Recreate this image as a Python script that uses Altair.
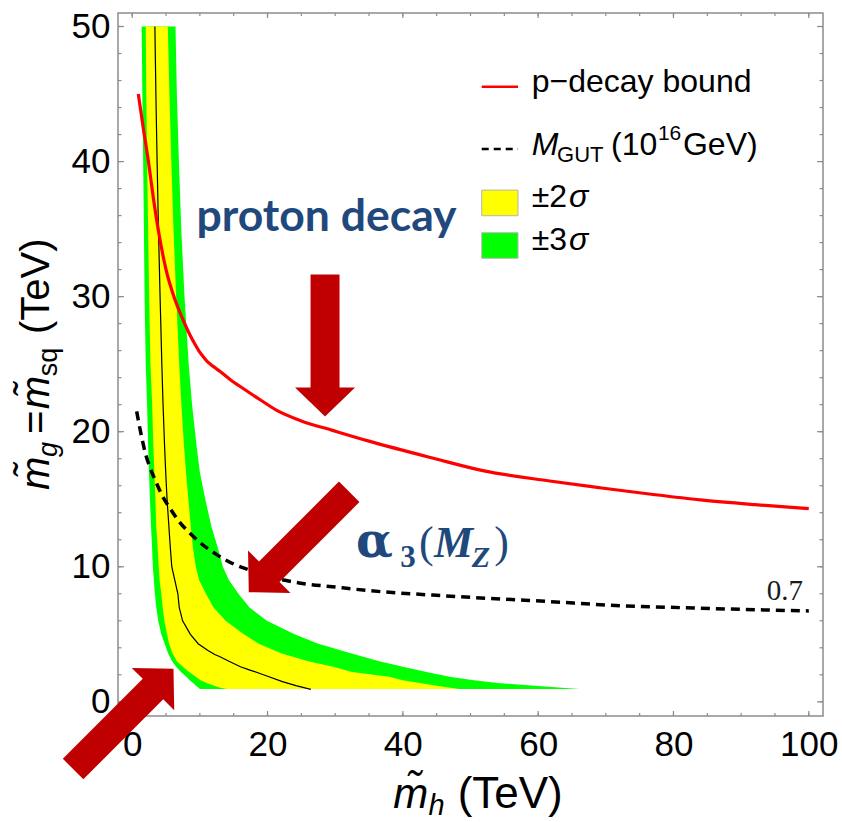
import altair as alt
import pandas as pd

# ---------------- values ----------------
# p-decay bound (red, solid)
pdecay_x = [0.9, 1.6, 2.4, 3.1, 3.9, 5.0, 6.3, 7.5, 8.6, 9.3, 9.9, 10.5, 11.0, 11.6, 12.2, 13.0, 14.5,
            16.4, 18.8, 21.3, 25.0, 29.6, 35.0, 44.4, 52.0, 61.7, 69.1, 77.0, 84.0, 92.0, 100.0]
pdecay_y = [45.0, 42.6, 40.0, 37.4, 34.8, 32.0, 29.8, 28.3, 27.1, 26.45, 25.95, 25.55, 25.25, 24.98,
            24.75, 24.45, 23.85, 23.2, 22.4, 21.6, 20.8, 20.1, 19.3, 18.05, 17.1, 16.35, 15.85, 15.35,
            14.95, 14.6, 14.3]

# M_GUT = 10^16 GeV contour (black, dashed)
mgut_x = [0.66, 1.4, 2.0, 2.6, 3.5, 4.5, 5.5, 7.0, 8.5, 10.0, 12.5, 15.0, 17.3, 20.0, 24.7, 30.0,
          34.6, 44.4, 55.0, 61.7, 70.0, 84.0, 100.0]
mgut_y = [21.5, 19.6, 18.3, 17.4, 16.3, 15.2, 14.4, 13.3, 12.5, 11.8, 10.9, 10.2, 9.76, 9.3, 8.8, 8.5,
          8.25, 7.9, 7.6, 7.42, 7.17, 6.93, 6.73]

# alpha_3(M_Z) bands, one row per level of the vertical axis
band_y = [0.95, 1.05, 1.2, 1.4, 1.6, 1.85, 2.2, 2.6, 3.0, 3.6, 4.3, 5, 6, 7, 8, 9, 10, 11.5, 13, 15,
          17, 19, 22, 25, 30, 35, 40, 45, 50]
green_left = [10.0, 9.8, 9.4, 9.0, 8.5, 8.0, 7.2, 6.5, 5.9, 5.3, 4.8, 4.3, 3.85, 3.55, 3.35, 3.2, 3.05,
              2.93, 2.78, 2.62, 2.48, 2.35, 2.2, 2.0, 1.83, 1.73, 1.62, 1.5, 1.4]
yellow_left = [14.0, 13.0, 12.0, 11.0, 10.1, 9.4, 8.4, 7.5, 6.6, 5.95, 5.45, 5.15, 4.75, 4.5, 4.3, 4.05,
               3.92, 3.75, 3.55, 3.42, 3.28, 3.12, 2.95, 2.7, 2.5, 2.35, 2.2, 2.08, 2.0]
yellow_right = [48.4, 47.0, 44.8, 42.5, 40.0, 38.0, 32.5, 29.7, 26.0, 22.0, 18.7, 16.5, 13.8, 12.0, 10.9,
                9.9, 9.4, 8.95, 8.65, 8.3, 7.95, 7.65, 7.27, 6.95, 6.5, 6.1, 5.78, 5.5, 5.26]
green_right = [66.1, 63.5, 59.0, 54.0, 50.5, 46.9, 43.5, 40.0, 36.5, 32.3, 27.5, 24.0, 19.9, 17.3, 15.7,
               14.3, 13.4, 12.6, 11.7, 10.8, 10.0, 9.5, 8.85, 8.35, 7.73, 7.25, 6.9, 6.6, 6.4]

# central value line
center_y = [0.92, 1.2, 1.5, 2.0, 2.37, 2.6, 3.0, 3.35, 3.5, 3.8, 4.3, 5, 6, 7, 8, 9, 10, 11.5, 13, 15,
            17, 19, 22, 25, 30, 35, 40, 45, 50]
center_x = [26.4, 24.2, 22.2, 19.4, 17.3, 16.0, 14.3, 12.9, 12.2, 11.2, 9.75, 8.6, 7.45, 6.95, 6.75, 6.3,
            5.85, 5.62, 5.42, 5.15, 4.95, 4.78, 4.56, 4.38, 4.12, 3.88, 3.68, 3.5, 3.35]

x_major = [0, 20, 40, 60, 80, 100]
x_minor = list(range(0, 101, 5))
y_major = [0, 10, 20, 30, 40, 50]
y_minor = list(range(0, 51, 2))

# ---------------- layout ----------------
W, H = 705, 703
xs = alt.Scale(domain=[-2.1, 102.1], nice=False, zero=False)
ys = alt.Scale(domain=[-1.05, 51.0], nice=False, zero=False)
AX = alt.Axis(values=x_major, title=None, labelPadding=11, format="d")
AY = alt.Axis(values=y_major, title=None, labelPadding=8, format="d")
FRAME = "#8c8c8c"
BLUE = "#1F497D"
ARROW = "#C00000"


def X(field, **kw):
    return alt.X(field, scale=xs, axis=AX, **kw)


def Y(field, **kw):
    return alt.Y(field, scale=ys, axis=AY, **kw)


bands = pd.DataFrame({"y": band_y, "gl": green_left, "yl": yellow_left,
                      "yr": yellow_right, "gr": green_right})

green = alt.Chart(bands).mark_area(orient="horizontal", color="#00FF00").encode(
    y=Y("y:Q"), x=X("gl:Q"), x2="gr:Q")
yellow = alt.Chart(bands).mark_area(orient="horizontal", color="#FFFF00").encode(
    y=Y("y:Q"), x=X("yl:Q"), x2="yr:Q")

center = alt.Chart(pd.DataFrame({"x": center_x, "y": center_y})).mark_line(
    color="black", strokeWidth=1.2).encode(x=X("x:Q"), y=Y("y:Q"), order="y:Q")

red = alt.Chart(pd.DataFrame({"x": pdecay_x, "y": pdecay_y})).mark_line(
    color="#FF0000", strokeWidth=3.2, interpolate="monotone").encode(
    x=X("x:Q"), y=Y("y:Q"), order="x:Q")

dashed = alt.Chart(pd.DataFrame({"x": mgut_x, "y": mgut_y})).mark_line(
    color="black", strokeWidth=3.5, strokeDash=[9, 6], interpolate="monotone").encode(
    x=X("x:Q"), y=Y("y:Q"), order="x:Q")


# inward frame ticks
def xticks(vals, length, top):
    df = pd.DataFrame({"v": vals})
    if top:
        return alt.Chart(df).mark_rule(color=FRAME, strokeWidth=1.2).encode(
            x=X("v:Q"), y=alt.value(0), y2=alt.value(length))
    return alt.Chart(df).mark_rule(color=FRAME, strokeWidth=1.2).encode(
        x=X("v:Q"), y=alt.value(H), y2=alt.value(H - length))


def yticks(vals, length, right):
    df = pd.DataFrame({"v": vals})
    if right:
        return alt.Chart(df).mark_rule(color=FRAME, strokeWidth=1.2).encode(
            y=Y("v:Q"), x=alt.value(W), x2=alt.value(W - length))
    return alt.Chart(df).mark_rule(color=FRAME, strokeWidth=1.2).encode(
        y=Y("v:Q"), x=alt.value(0), x2=alt.value(length))


ticks = [xticks(x_minor, 3, False), xticks(x_major, 5, False),
         xticks(x_minor, 3, True), xticks(x_major, 5, True),
         yticks(y_minor, 3.5, False), yticks(y_major, 6, False),
         yticks(y_minor, 3.5, True), yticks(y_major, 6, True)]

# block arrows (custom symbol pointing down, rotated)
arrow_path = ("M -0.204 -1 L 0.204 -1 L 0.204 0.592 L 0.423 0.592 L 0 1 "
              "L -0.423 0.592 L -0.204 0.592 Z")
arrow_x = [28.5, 24.65, -1.32]
arrow_y = [26.38, 11.83, -1.26]
arrow_angle = [0, 45, 225]
arrows = alt.Chart(pd.DataFrame({"x": arrow_x, "y": arrow_y, "a": arrow_angle})).mark_point(
    shape=arrow_path, filled=True, size=20164, color=ARROW, opacity=1, strokeWidth=0
).encode(x=X("x:Q"), y=Y("y:Q"), angle=alt.Angle("a:Q", scale=None))


def txt(rows, **props):
    df = pd.DataFrame(rows, columns=["t", "x", "y"])
    base = dict(align="left", baseline="alphabetic", color="black")
    base.update(props)
    return alt.Chart(df).mark_text(**base).encode(x=X("x:Q"), y=Y("y:Q"), text="t:N")


SANS = "Liberation Sans"
SERIF = "Liberation Serif"
texts = [
    # legend
    txt([["p\u2212decay bound", 59.05, 45.15]], font=SANS, fontSize=32),
    txt([["M", 59.05, 40.48]], font=SANS, fontSize=32, fontStyle="italic"),
    txt([["GUT", 62.8, 40.0]], font=SANS, fontSize=22),
    txt([["(10", 70.77, 40.48], ["GeV)", 81.4, 40.48]], font=SANS, fontSize=32),
    txt([["16", 77.7, 41.6]], font=SANS, fontSize=21),
    txt([["\u00b12", 59.05, 36.63], ["\u00b13", 59.05, 33.45]], font=SANS, fontSize=32),
    txt([["\u03c3", 64.56, 36.63], ["\u03c3", 64.56, 33.45]], font=SANS, fontSize=32,
        fontStyle="italic"),
    # annotations
    txt([["proton decay", 9.5, 34.86]], font="Lato", fontSize=44.5, fontWeight="bold", color=BLUE),
    txt([["\u03b1", 33.08, 10.72]], font="DejaVu Serif", fontSize=48, fontWeight="bold", color=BLUE),
    txt([["3", 39.6, 9.98]], font=SERIF, fontSize=31, fontWeight="bold", color=BLUE),
    txt([["(", 42.4, 10.72], [")", 53.5, 10.72]], font=SERIF, fontSize=44, color=BLUE),
    txt([["M", 44.6, 10.72]], font=SERIF, fontSize=44, fontWeight="bold",
        fontStyle="italic", color=BLUE),
    txt([["Z", 50.2, 9.98]], font=SERIF, fontSize=30, fontWeight="bold",
        fontStyle="italic", color=BLUE),
    txt([["0.7", 93.8, 7.54]], font=SERIF, fontSize=29, color="#1a1a1a"),
    # x title
    txt([["m\u0303", 38.6, -7.87]], font=SANS, fontSize=42, fontStyle="italic"),
    txt([["h", 43.8, -8.4]], font=SANS, fontSize=29, fontStyle="italic"),
    txt([["(TeV)", 48.1, -7.87]], font=SANS, fontSize=44),
    # y title (rotated)
    txt([["m\u0303", -12.3, 15.68], ["m\u0303", -12.3, 21.67]], font=SANS,
        fontSize=40, fontStyle="italic", angle=270),
    txt([["g", -11.11, 18.12]], font=SANS, fontSize=27, fontStyle="italic", angle=270),
    txt([["sq", -11.11, 24.1]], font=SANS, fontSize=27, angle=270),
    txt([["=", -12.3, 19.82], ["(TeV)", -12.3, 27.23]], font=SANS, fontSize=40, angle=270),
]

# legend keys
leg_red = alt.Chart(pd.DataFrame({"x": [51.66], "x2": [57.02], "y": [45.54]})).mark_rule(
    color="#FF0000", strokeWidth=2.5).encode(x=X("x:Q"), x2="x2:Q", y=Y("y:Q"))
leg_dash = alt.Chart(pd.DataFrame({"x": [51.66], "x2": [57.02], "y": [40.93]})).mark_rule(
    color="black", strokeWidth=2.5, strokeDash=[7, 5]).encode(x=X("x:Q"), x2="x2:Q", y=Y("y:Q"))
leg_boxes = alt.Chart(pd.DataFrame({
    "x": [51.66, 51.66], "x2": [57.02, 57.02], "y": [37.89, 34.73], "y2": [35.99, 32.84],
    "c": ["#FFFF00", "#00FF00"]})).mark_rect(stroke="#b5b5b5", strokeWidth=1).encode(
    x=X("x:Q"), x2="x2:Q", y=Y("y:Q"), y2="y2:Q", color=alt.Color("c:N", scale=None))

chart = alt.layer(
    green, yellow, center, red, dashed, *ticks, leg_red, leg_dash, leg_boxes, arrows, *texts
).properties(
    width=W, height=H,
    autosize=alt.AutoSizeParams(type="none"),
    padding={"left": 118, "top": 13, "right": 19, "bottom": 106},
    background="white",
).configure_view(
    stroke=FRAME, strokeWidth=1.5
).configure_axis(
    grid=False, domain=False, ticks=False, tickSize=0,
    labelFont=SANS, labelFontSize=35, labelColor="black",
)

chart.save("out.html", embed_options={"renderer": "svg", "actions": False})
